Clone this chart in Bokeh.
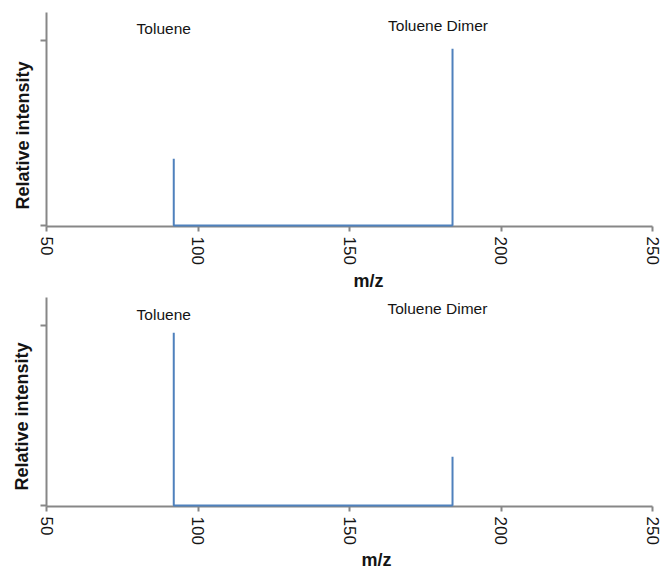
from bokeh.plotting import figure
from bokeh.layouts import column
from bokeh.models import Label, Title, FixedTicker, Range1d, CustomJSTickFormatter
from bokeh.embed import file_html
from bokeh.resources import INLINE

# ---- data ----
peak_mz = [92, 184]
peak_names = ["Toluene", "Toluene Dimer"]
top_intensity = [0.36, 0.954]
bottom_intensity = [0.961, 0.272]
x_ticks = [50, 100, 150, 200, 250]
y_ticks = [0, 1]
x_label = "m/z"
y_label = "Relative intensity"

FONT = "Liberation Sans"
AXIS_COLOR = "#878787"
LINE_COLOR = "#4f81bd"
TEXT_COLOR = "#141414"


def make_panel(intensity, y_end, height, borders, name_pos, ytitle, xtitle):
    left, right, top, bottom = borders
    p = figure(width=662, height=height, output_backend="svg", toolbar_location=None,
               x_range=Range1d(50, 250), y_range=Range1d(-0.005, y_end),
               min_border_left=left, min_border_right=right,
               min_border_top=top, min_border_bottom=bottom)
    p.outline_line_color = None
    p.grid.visible = False
    p.background_fill_color = "white"
    p.border_fill_color = "white"

    # spectrum trace: first peak top -> baseline -> second peak top
    xs = [peak_mz[0], peak_mz[0], peak_mz[1], peak_mz[1]]
    ys = [intensity[0], 0, 0, intensity[1]]
    r = p.line(xs, ys, line_color=LINE_COLOR, line_width=2)
    r.level = "overlay"

    for ax in (p.xaxis, p.yaxis):
        ax.axis_line_color = AXIS_COLOR
        ax.axis_line_width = 2
        ax.major_tick_line_color = AXIS_COLOR
        ax.major_tick_line_width = 2
        ax.minor_tick_line_color = None
        ax.major_tick_in = 0
        ax.major_label_text_font = FONT
        ax.major_label_text_color = TEXT_COLOR

    p.xaxis.ticker = FixedTicker(ticks=x_ticks)
    p.xaxis.major_tick_out = 5
    p.xaxis.major_label_orientation = "vertical"
    p.xaxis.major_label_text_font_size = "17px"
    p.xaxis.major_label_standoff = 5

    p.yaxis.ticker = FixedTicker(ticks=y_ticks)
    p.yaxis.major_tick_out = 6
    p.yaxis.formatter = CustomJSTickFormatter(code="return ''")
    p.yaxis.major_label_standoff = 0

    for name, (nx, ny) in zip(peak_names, name_pos):
        p.add_layout(Label(x=nx, y=ny, text=name, text_align="center",
                           text_baseline="alphabetic", text_font=FONT,
                           text_font_size="15.5px", text_color=TEXT_COLOR))

    y_off, y_stand = ytitle
    p.add_layout(Title(text=y_label, align="left", offset=y_off, standoff=y_stand,
                       text_font=FONT, text_font_size="18px", text_font_style="bold",
                       text_color=TEXT_COLOR), "left")
    x_off, x_stand = xtitle
    p.add_layout(Title(text=x_label, align="left", offset=x_off, standoff=x_stand,
                       text_font=FONT, text_font_size="18px", text_font_style="bold",
                       text_color=TEXT_COLOR), "below")
    return p


p1 = make_panel(top_intensity, 1.15, 292, (42, 10, 12, 65),
                [(88.7, 1.064), (179.2, 1.081)], (17, 15), (307, 3))
p2 = make_panel(bottom_intensity, 1.157, 277, (46, 9, 5, 58),
                [(88.7, 1.064), (179, 1.097)], (16, 17), (315, 0))

layout = column(p1, p2, spacing=0)
open("out.html", "w").write(file_html(layout, INLINE))
